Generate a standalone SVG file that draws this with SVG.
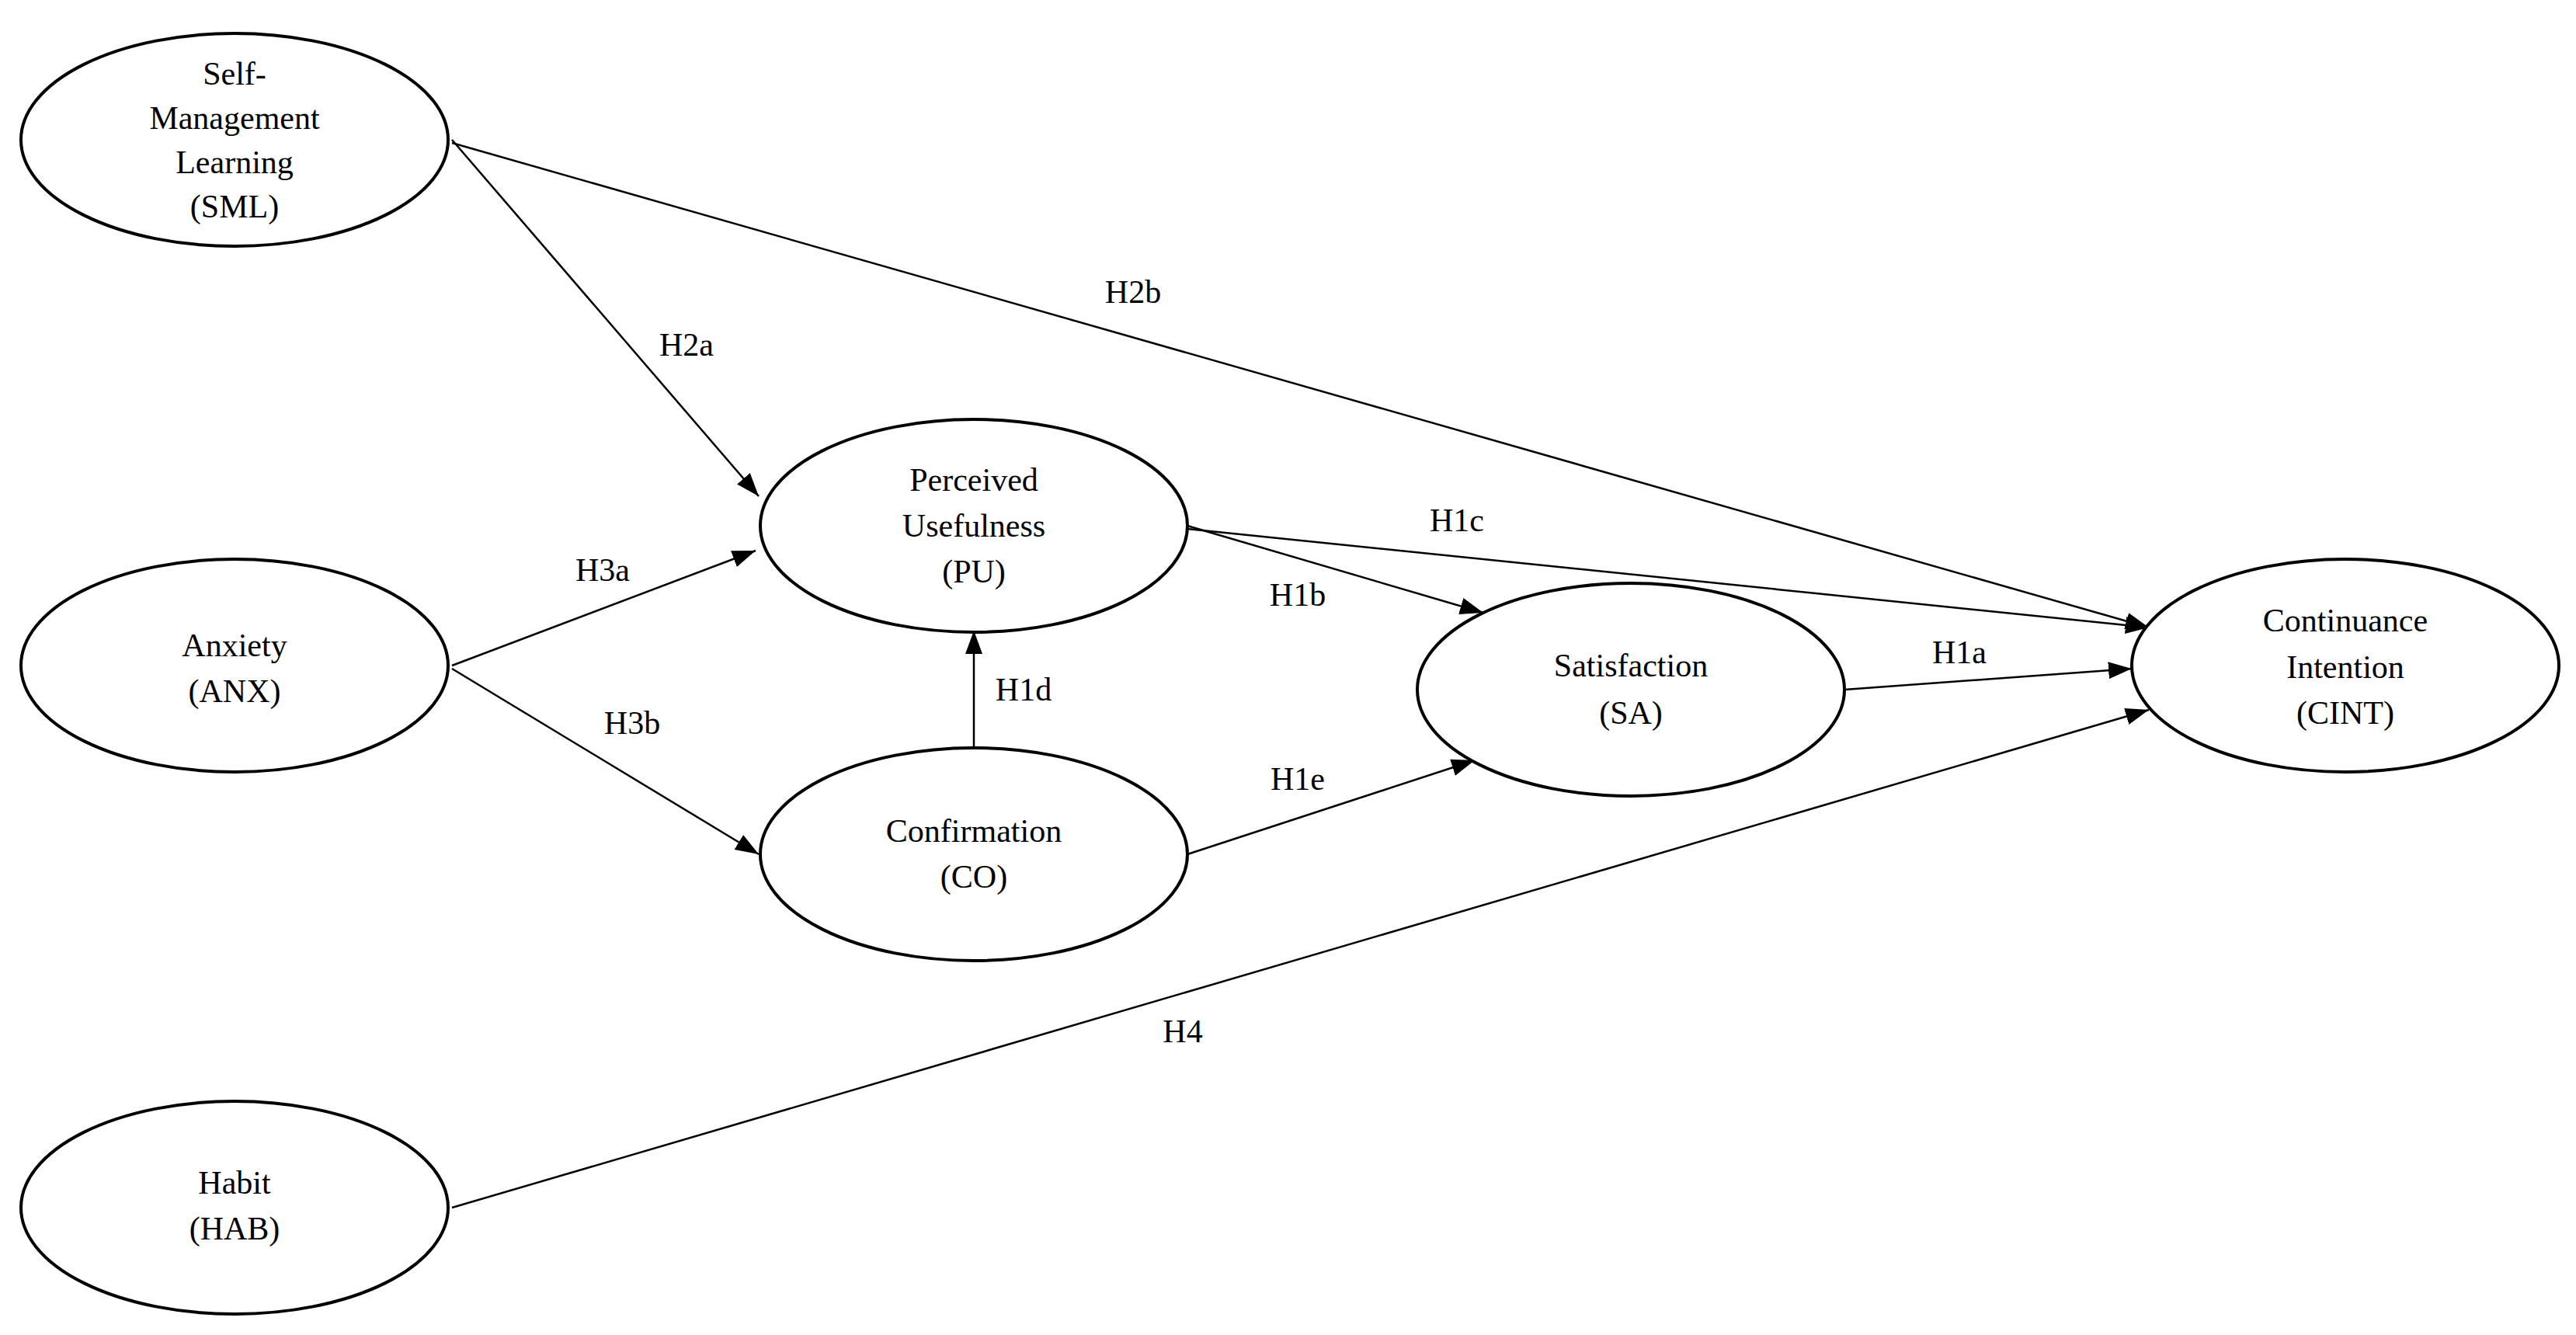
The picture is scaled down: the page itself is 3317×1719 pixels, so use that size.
<svg xmlns="http://www.w3.org/2000/svg" width="3317" height="1719" viewBox="0 0 3317 1719">
<style>
.n{fill:#fff;stroke:#000;stroke-width:4}
text{font-family:"Liberation Serif","DejaVu Serif",serif;font-size:42px;fill:#000;text-anchor:middle;dominant-baseline:central}
.e{stroke:#000;stroke-width:2.5;fill:none;marker-end:url(#a)}
</style>
<defs><marker id="a" markerUnits="userSpaceOnUse" markerWidth="30" markerHeight="22" refX="30" refY="11" orient="auto"><path d="M0,0L30,11L0,22z" fill="#000"/></marker></defs>
<rect width="3317" height="1719" fill="#fff"/>
<g id="connectors">
<line class="e" x1="582" y1="180" x2="977" y2="639"/><text x="884" y="444">H2a</text>
<line class="e" x1="582" y1="184" x2="2767" y2="808"/><text x="1459" y="376">H2b</text>
<line class="e" x1="582" y1="857" x2="973" y2="709"/><text x="776" y="734">H3a</text>
<line class="e" x1="582" y1="861" x2="977" y2="1100"/><text x="814" y="931">H3b</text>
<line class="e" x1="1254" y1="964" x2="1254" y2="812"/><text x="1318" y="888">H1d</text>
<line class="e" x1="1529" y1="677" x2="1910" y2="789"/><text x="1671" y="766">H1b</text>
<line class="e" x1="1529" y1="681" x2="2767" y2="808"/><text x="1876" y="670">H1c</text>
<line class="e" x1="1529" y1="1100" x2="1899" y2="979"/><text x="1671" y="1003">H1e</text>
<line class="e" x1="2375" y1="888" x2="2745" y2="861"/><text x="2523" y="840">H1a</text>
<line class="e" x1="582" y1="1555" x2="2767" y2="914"/><text x="1523" y="1328">H4</text>
</g>
<g id="SML"><ellipse class="n" cx="302" cy="180" rx="275" ry="137"/><text x="302" y="95">Self-</text><text x="302" y="152">Management</text><text x="302" y="209">Learning</text><text x="302" y="266">(SML)</text></g>
<g id="ANX"><ellipse class="n" cx="302" cy="857" rx="275" ry="137"/><text x="302" y="831">Anxiety</text><text x="302" y="890">(ANX)</text></g>
<g id="HAB"><ellipse class="n" cx="302" cy="1555" rx="275" ry="137"/><text x="302" y="1523">Habit</text><text x="302" y="1582">(HAB)</text></g>
<g id="PU"><ellipse class="n" cx="1254" cy="677" rx="275" ry="137"/><text x="1254" y="618">Perceived</text><text x="1254" y="677">Usefulness</text><text x="1254" y="736">(PU)</text></g>
<g id="CO"><ellipse class="n" cx="1254" cy="1100" rx="275" ry="137"/><text x="1254" y="1070">Confirmation</text><text x="1254" y="1129">(CO)</text></g>
<g id="SA"><ellipse class="n" cx="2100" cy="888" rx="275" ry="137"/><text x="2100" y="857">Satisfaction</text><text x="2100" y="918">(SA)</text></g>
<g id="CINT"><ellipse class="n" cx="3020" cy="857" rx="275" ry="137"/><text x="3020" y="799">Continuance</text><text x="3020" y="859">Intention</text><text x="3020" y="918">(CINT)</text></g>
</svg>
